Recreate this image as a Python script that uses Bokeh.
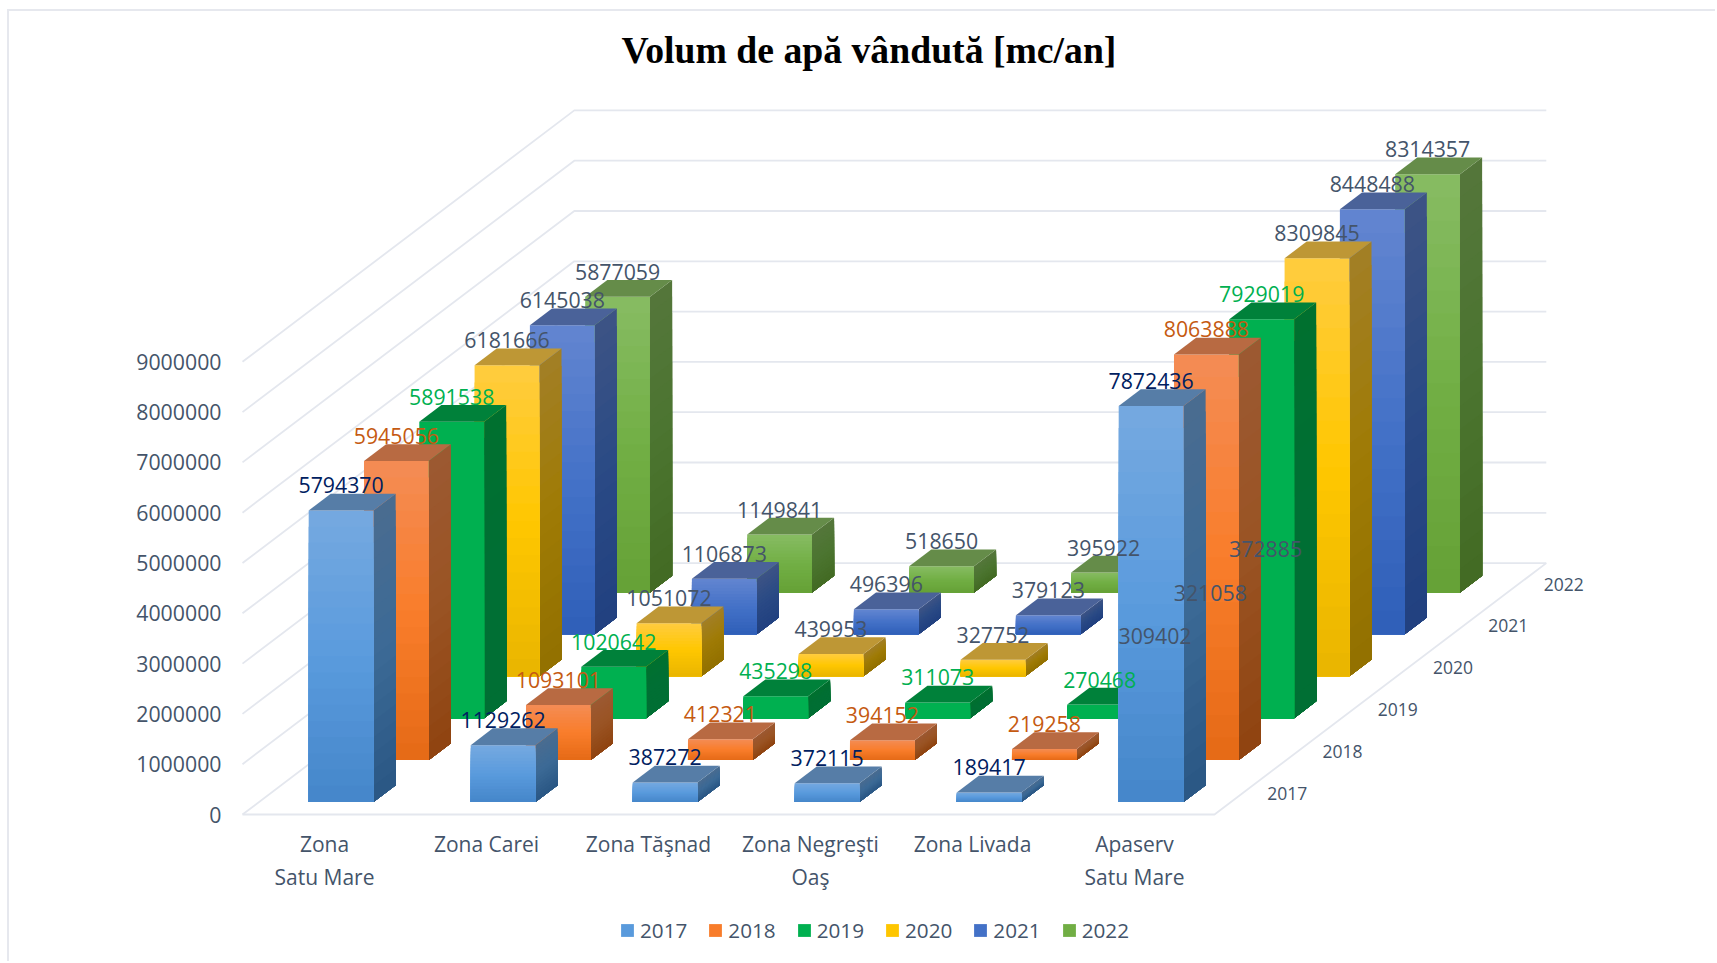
from bokeh.plotting import figure
from bokeh.embed import file_html
from bokeh.resources import INLINE
from bokeh.core.properties import value
from bokeh.models import (ColumnDataSource, FixedTicker, Legend, LegendItem, Range1d)

TITLE = "Volum de apă vândută [mc/an]"
categories = ["Zona\nSatu Mare", "Zona Carei", "Zona Tăşnad", "Zona Negreşti\nOaş", "Zona Livada", "Apaserv\nSatu Mare"]
years = ["2017", "2018", "2019", "2020", "2021", "2022"]
v2017 = [5794370, 1129262, 387272, 372115, 189417, 7872436]
v2018 = [5945056, 1093101, 412321, 394152, 219258, 8063888]
v2019 = [5891538, 1020642, 435298, 311073, 270468, 7929019]
v2020 = [6181666, 1051072, 439953, 327752, 309402, 8309845]
v2021 = [6145038, 1106873, 496396, 379123, 321058, 8448488]
v2022 = [5877059, 1149841, 518650, 395922, 372885, 8314357]
series = [v2017, v2018, v2019, v2020, v2021, v2022]
value_ticks = [0, 1000000, 2000000, 3000000, 4000000, 5000000, 6000000, 7000000, 8000000, 9000000]

front_colors = [("#76A9E0", "#5A9BDD", "#4586CA"), ("#F48C55", "#F97D2B", "#E56A16"), ("#00B050", "#00B050", "#00B050"),
                ("#FFCC40", "#FFC700", "#E9B500"), ("#6385D0", "#4472C8", "#2F5FB8"), ("#87BC63", "#72AF45", "#65A136")]
side_colors = [("#4A6C90", "#3C6A96", "#2A5784"), ("#9C5932", "#9A5424", "#8F4310"), ("#00702F", "#006F34", "#006F34"),
               ("#A27F26", "#9F7B05", "#927000"), ("#3D5485", "#2A4A85", "#214080"), ("#54763B", "#4C7530", "#426A23")]
top_colors = ["#567DA7", "#B86A42", "#00813A", "#BE9735", "#4A6299", "#658C49"]
label_colors = ["#002060", "#C55A11", "#00B050", "#44546A", "#44546A", "#44546A"]
TEXT = "#44546A"
GRID = "#E4E7EE"
FONT = "Open Sans"

# pixel scale of the oblique projection
PX_CAT, PX_SX, PX_SY, PX_M = 162.0, 55.3, 41.9, 50.3
KX, KY = PX_SX / PX_CAT, PX_SY / PX_M * 1e6
FRAME_W, FRAME_H = 1487, 888
LEFT_PAD = 12.0    # px from frame left to floor corner
BOTTOM_PAD = 149.0  # px from frame bottom to floor front
BAR_W, BAR_D = 0.4, 0.4
NUDGE = 1.0 / PX_CAT  # bars sit a pixel right of the exact slot centre
BANDS = 18


def PX(c, s):
    return c + s * KX


def PY(v, s):
    return v + s * KY


def hex_rgb(h):
    return tuple(int(h[i:i + 2], 16) for i in (1, 3, 5))


def mix(stops, t):
    a, b, u = (stops[0], stops[1], t * 2) if t < 0.5 else (stops[1], stops[2], t * 2 - 1)
    ca, cb = hex_rgb(a), hex_rgb(b)
    return "#%02X%02X%02X" % tuple(round(x + (y - x) * u) for x, y in zip(ca, cb))


p = figure(frame_width=FRAME_W, frame_height=FRAME_H, output_backend="svg", toolbar_location=None,
           x_range=Range1d(-LEFT_PAD / PX_CAT, (FRAME_W - LEFT_PAD) / PX_CAT),
           y_range=Range1d(-BOTTOM_PAD / PX_M * 1e6, (FRAME_H - BOTTOM_PAD) / PX_M * 1e6),
           min_border_left=221, min_border_right=0, min_border_top=64, min_border_bottom=0,
           title=TITLE, tools="")
p.margin = (11, 0, 0, 9)
p.styles = {"box-shadow": "-2px -2px 0 #E6E8EE"}
p.outline_line_color = None
p.background_fill_color = "white"
p.grid.visible = False

p.title.align = "left"
p.title.offset = 391
p.title.text_font = "Liberation Serif"
p.title.text_font_style = "bold"
p.title.text_font_size = "37.7px"
p.title.text_color = "#000000"

ax = p.yaxis[0]
ax.ticker = FixedTicker(ticks=value_ticks)
ax.formatter.use_scientific = False
ax.axis_line_color = None
ax.major_tick_line_color = None
ax.minor_tick_line_color = None
ax.major_label_text_font = FONT
ax.major_label_text_font_size = "21.3px"
ax.major_label_text_color = TEXT
ax.major_label_standoff = 3

bx = p.xaxis[0]
cat_ticks = [i + 0.5 + NUDGE for i in range(len(categories))]
bx.ticker = FixedTicker(ticks=cat_ticks)
bx.major_label_overrides = {t: c for t, c in zip(cat_ticks, categories)}
bx.axis_line_color = None
bx.major_tick_line_color = None
bx.minor_tick_line_color = None
bx.major_label_text_font = FONT
bx.major_label_text_font_size = "21px"
bx.major_label_text_color = TEXT
bx.major_label_standoff = -140

# walls and floor
n_cat, n_ser = len(categories), len(years)
gx, gy = [], []
for t in value_ticks:
    gx.append([PX(0, 0), PX(0, n_ser), PX(n_cat, n_ser)])
    gy.append([PY(t, 0), PY(t, n_ser), PY(t, n_ser)])
gx.append([PX(0, 0), PX(n_cat, 0), PX(n_cat, n_ser)])
gy.append([PY(0, 0), PY(0, 0), PY(0, n_ser)])
p.multi_line(gx, gy, line_color=GRID, line_width=1.8)

legend_slots = {}
for s in range(n_ser - 1, -1, -1):
    s0, s1 = s + (1 - BAR_D) / 2, s + (1 + BAR_D) / 2
    fx, fy, fc, sx, sy, sc, tx, ty = [], [], [], [], [], [], [], []
    for c in range(n_cat):
        c0, c1 = c + (1 - BAR_W) / 2 + NUDGE, c + (1 + BAR_W) / 2 + NUDGE
        v = series[s][c]
        for b in range(BANDS):
            # each band runs from its own upper edge down to the foot, so later bands overlay without seams
            t = (b + 0.5) / BANDS
            hi = v * (1 - b / BANDS)
            fx.append([PX(c0, s0), PX(c1, s0), PX(c1, s0), PX(c0, s0)])
            fy.append([PY(hi, s0), PY(hi, s0), PY(0, s0), PY(0, s0)])
            fc.append(mix(front_colors[s], t))
            sx.append([PX(c1, s0), PX(c1, s1), PX(c1, s1), PX(c1, s0)])
            sy.append([PY(hi, s0), PY(hi, s1), PY(0, s1), PY(0, s0)])
            sc.append(mix(side_colors[s], t))
        tx.append([PX(c0, s0), PX(c1, s0), PX(c1, s1), PX(c0, s1)])
        ty.append([PY(v, s0), PY(v, s0), PY(v, s1), PY(v, s1)])
    p.patches("x", "y", source=ColumnDataSource(dict(x=sx, y=sy, color=sc)), fill_color="color", line_color=None)
    r = p.patches("x", "y", source=ColumnDataSource(dict(x=fx, y=fy, color=fc)), fill_color="color", line_color=None)
    p.patches(tx, ty, fill_color=top_colors[s], line_color=None)
    legend_slots[s] = LegendItem(label=value(years[s]), renderers=[r], index=BANDS // 2)

# data labels above everything
for s in range(n_ser):
    s0 = s + (1 - BAR_D) / 2
    lx = [PX(c + 0.5 + NUDGE, s0) for c in range(n_cat)]
    ly = [PY(v, s0) for v in series[s]]
    p.text(lx, ly, text=[str(v) for v in series[s]], text_font=value(FONT), text_font_size="21.3px",
           text_color=label_colors[s], text_align="center", text_baseline="middle", y_offset=-25)

# depth axis labels
p.text([PX(n_cat, s + 0.5) for s in range(n_ser)], [PY(0, s + 0.5) for s in range(n_ser)], text=years,
       text_font=value(FONT), text_font_size="17.5px", text_color=TEXT, text_align="center",
       text_baseline="middle", x_offset=45)

legend = Legend(items=[legend_slots[s] for s in range(n_ser)], orientation="horizontal", location=(389, 19),
                border_line_color=None, background_fill_color=None, glyph_width=16, glyph_height=16,
                label_text_font=FONT, label_text_font_size="20.7px", label_text_color=TEXT,
                spacing=20, label_standoff=5, margin=0, padding=0)
p.add_layout(legend, "center")

open("out.html", "w").write(file_html(p, INLINE))
